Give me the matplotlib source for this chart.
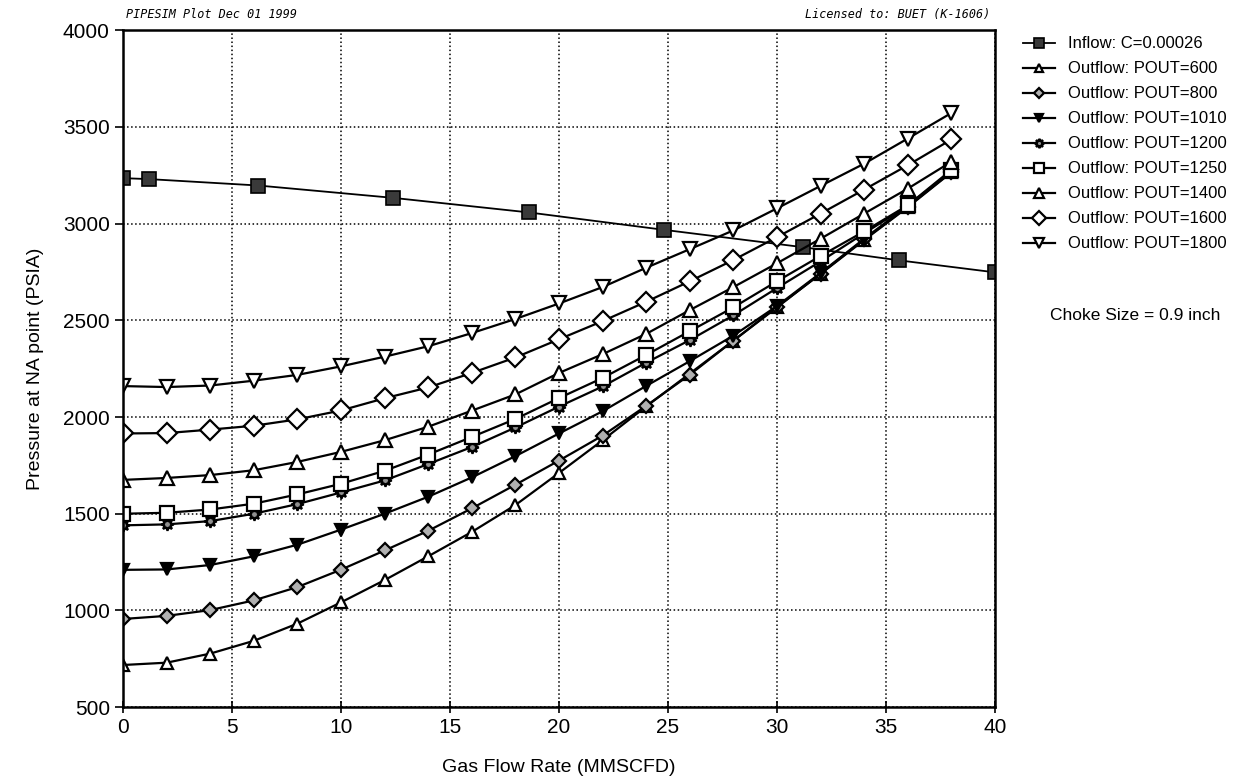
import numpy as np
import matplotlib
matplotlib.use("Agg")
import matplotlib.pyplot as plt

plt.rcParams["font.family"] = ["Liberation Sans", "DejaVu Sans"]

# Inflow curve
q_in = [0, 1.2, 6.2, 12.4, 18.6, 24.8, 31.2, 35.6, 40]
p_in = [3235, 3230, 3197, 3133, 3058, 2968, 2878, 2810, 2748]

# Outflow curves (same gas rates for all)
q_out = [0, 2, 4, 6, 8, 10, 12, 14, 16, 18, 20, 22, 24, 26, 28, 30, 32, 34, 36, 38]
p600 = [718, 730, 777, 843, 932, 1042, 1157, 1280, 1406, 1545, 1711, 1880,
        2055, 2225, 2395, 2570, 2740, 2915, 3085, 3265]
p800 = [956, 972, 1002, 1052, 1121, 1211, 1310, 1412, 1528, 1650, 1775, 1904,
        2058, 2219, 2395, 2567, 2742, 2918, 3088, 3268]
p1010 = [1210, 1212, 1235, 1280, 1340, 1418, 1500, 1588, 1688, 1798, 1915, 2030,
         2161, 2289, 2421, 2574, 2745, 2922, 3092, 3270]
p1200 = [1440, 1445, 1462, 1500, 1550, 1610, 1672, 1757, 1845, 1946, 2054, 2158,
         2281, 2398, 2526, 2667, 2805, 2950, 3092, 3272]
p1250 = [1500, 1505, 1522, 1552, 1600, 1655, 1722, 1806, 1897, 1990, 2098, 2202,
         2321, 2444, 2567, 2702, 2833, 2960, 3095, 3278]
p1400 = [1675, 1685, 1700, 1725, 1768, 1820, 1880, 1950, 2033, 2117, 2228, 2325,
         2430, 2553, 2672, 2795, 2922, 3052, 3181, 3320]
p1600 = [1915, 1917, 1935, 1955, 1988, 2034, 2097, 2153, 2228, 2308, 2402, 2496,
         2596, 2702, 2812, 2930, 3052, 3176, 3302, 3435]
p1800 = [2160, 2155, 2163, 2188, 2218, 2262, 2312, 2366, 2434, 2507, 2587, 2672,
         2772, 2868, 2965, 3079, 3195, 3310, 3440, 3572]

fig = plt.figure(figsize=(12.43, 7.84), dpi=100)
ax = fig.add_axes([0.099, 0.098, 0.7015, 0.8635])

ax.plot(q_in, p_in, color="black", lw=1.3, marker="s", ms=10,
        mfc="#3a3a3a", mec="black", mew=1.2, label="Inflow: C=0.00026")

outflows = [
    (p600, "^", 8, "white", "Outflow: POUT=600"),
    (p800, "D", 7, "#b0b0b0", "Outflow: POUT=800"),
    (p1010, "v", 8, "black", "Outflow: POUT=1010"),
    (p1200, (8, 1, 0), 9, "#909090", "Outflow: POUT=1200"),
    (p1250, "s", 10, "white", "Outflow: POUT=1250"),
    (p1400, "^", 10, "white", "Outflow: POUT=1400"),
    (p1600, "D", 10, "white", "Outflow: POUT=1600"),
    (p1800, "v", 10, "white", "Outflow: POUT=1800"),
]
for p, mk, ms, fc, lab in outflows:
    ax.plot(q_out, p, color="black", lw=1.6, marker=mk, ms=ms,
            mfc=fc, mec="black", mew=1.6, label=lab)

ax.set_xlim(0, 40)
ax.set_ylim(500, 4000)
ax.set_xticks(np.arange(0, 41, 5))
ax.set_yticks(np.arange(500, 4001, 500))
ax.grid(True, linestyle=":", color="black", linewidth=1.1)
ax.tick_params(axis="y", direction="out", length=6, width=1.2, labelsize=15)
ax.tick_params(axis="x", direction="inout", length=8, width=1.2, labelsize=15)
for s in ax.spines.values():
    s.set_linewidth(1.8)

ax.set_xlabel("Gas Flow Rate (MMSCFD)", fontsize=14, labelpad=16)
ax.set_ylabel("Pressure at NA point (PSIA)", fontsize=14, labelpad=14)

fig.text(0.101, 0.981, "PIPESIM Plot Dec 01 1999", fontsize=8.5, style="italic",
         family="DejaVu Sans Mono", va="center", ha="left")
fig.text(0.797, 0.981, "Licensed to: BUET (K-1606)", fontsize=8.5, style="italic",
         family="DejaVu Sans Mono", va="center", ha="right")

fig.legend(loc="upper left", bbox_to_anchor=(0.818, 0.962), frameon=False,
           fontsize=12, handlelength=1.9, labelspacing=0.6, markerscale=0.75,
           handletextpad=0.8, borderaxespad=0)

fig.text(0.913, 0.598, "Choke Size = 0.9 inch", fontsize=12.5, ha="center", va="center")

fig.savefig("out.png", dpi=100)
